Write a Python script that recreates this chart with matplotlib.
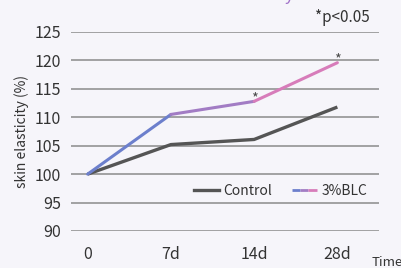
import numpy as np
import matplotlib
matplotlib.use('Agg')
import matplotlib.pyplot as plt
from matplotlib.collections import LineCollection
from matplotlib.legend_handler import HandlerBase
from matplotlib.lines import Line2D

plt.rcParams['font.family'] = ['Noto Sans CJK JP', 'DejaVu Sans']

# data
days = ['0', '7d', '14d', '28d']
control = [100, 105.2, 106.1, 111.8]
blc = [100, 110.5, 112.8, 119.6]
sig_idx = [2, 3]  # points marked with *

bg = '#f6f5fa'
ctrl_col = '#555555'
blc_cols = ['#6c7fcc', '#a27cc4', '#d77cba']

fig = plt.figure(figsize=(4.01, 2.68), dpi=100, facecolor=bg)
ax = fig.add_axes([71/401, 37/268, 308/401, 199/268], facecolor=bg)

x = np.arange(len(days))
ax.plot(x, control, color=ctrl_col, lw=2.4, solid_capstyle='butt', zorder=3)

# one colour per segment, blue -> pink
pts = np.column_stack([x, blc])
segs = [pts[i:i+2] for i in range(len(pts) - 1)]
lc = LineCollection(segs, colors=blc_cols, linewidths=2.2, capstyle='round', zorder=4)
ax.add_collection(lc)

for i in sig_idx:
    ax.annotate('*', (x[i], blc[i]), xytext=(0, 2.5), textcoords='offset points',
                ha='center', va='center', fontsize=10.5, color='#4a4a4a')

ax.set_xlim(-0.2, 3.5)
ax.set_ylim(90, 125)
ax.set_yticks(np.arange(90, 126, 5))
ax.set_xticks(x)
ax.set_xticklabels(days)
ax.grid(axis='y', color='#8a8a8a', lw=1.1)
ax.set_axisbelow(True)
for s in ax.spines.values():
    s.set_visible(False)
ax.tick_params(axis='both', length=0, labelsize=11.5, colors='#333333')
ax.tick_params(axis='x', pad=11)
ax.tick_params(axis='y', pad=7)
ax.set_ylabel('skin elasticity (%)', fontsize=10, color='#333333', labelpad=4)

fig.text(0.922, 0.935, '*p<0.05', ha='right', va='center', fontsize=11, color='#333333')
fig.text(372/401, 0.022, 'Time', ha='left', va='center', fontsize=9.5, color='#333333')
# descender of a title cut off by the top edge
fig.text(289/401, 1.0, 'y', ha='center', va='baseline', fontsize=12, color='#a070c8')


class GradHandler(HandlerBase):
    def create_artists(self, legend, orig, xd, yd, w, h, fontsize, trans):
        xs = np.linspace(-xd, -xd + w, 4)
        ys = np.full(4, h / 2 - yd)
        p = np.column_stack([xs, ys])
        sg = [p[i:i+2] for i in range(3)]
        l = LineCollection(sg, colors=blc_cols, linewidths=2, transform=trans)
        return [l]


h1 = Line2D([], [], color=ctrl_col, lw=2.4)
h2 = Line2D([], [], color=blc_cols[1], lw=2)
leg = ax.legend([h1, h2], ['Control', '3%BLC'], handler_map={h2: GradHandler()},
                loc='center', bbox_to_anchor=(0.68, 0.20), ncol=2, frameon=False,
                fontsize=10, handlelength=1.8, handletextpad=0.35, columnspacing=1.4)
for t in leg.get_texts():
    t.set_color('#333333')

fig.savefig('out.png', dpi=100, facecolor=bg)
